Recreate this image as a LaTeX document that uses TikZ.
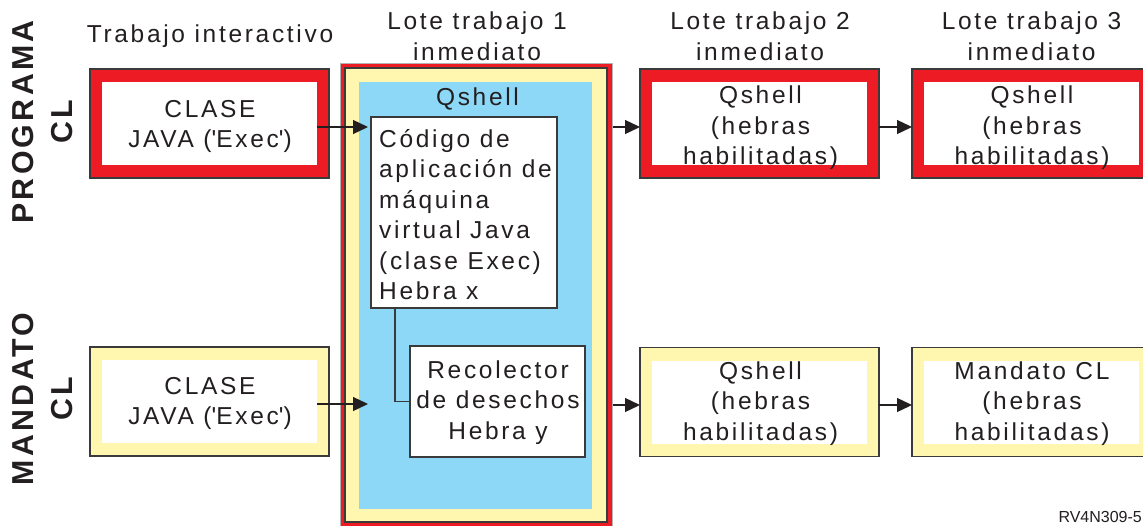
\documentclass[tikz,border=0pt]{standalone}
\usepackage{fontspec}
\setmainfont{Liberation Sans}[LetterSpace=11]
\newfontfamily\idfont{Liberation Sans}
\usetikzlibrary{arrows.meta}
\definecolor{rojo}{HTML}{ED1C24}
\definecolor{amar}{HTML}{FFF7B0}
\definecolor{azul}{HTML}{8CD8F6}
\definecolor{borde}{HTML}{3A3A3A}
\definecolor{tinta}{HTML}{231F20}
\newcommand{\txtfont}{\fontsize{24.5}{30.5}\selectfont}
\newcommand{\lblfont}{\fontsize{30.3}{39.7}\selectfont\bfseries}
\newcommand{\firststrut}{\rule{0pt}{24pt}}
\newcommand{\sq}{\textquotesingle}
\tikzset{
  outerbox/.style={draw=borde, line width=1.2pt, minimum width=239pt, minimum height=109pt, inner sep=0pt, outer sep=0pt},
  redbox/.style={outerbox, fill=rojo},
  yelbox/.style={outerbox, fill=amar},
  whitebox/.style={fill=white, minimum width=215pt, minimum height=83pt, inner sep=0pt, outer sep=0pt},
  plainbox/.style={draw=borde, line width=1.2pt, fill=white, inner sep=0pt, outer sep=0pt},
  txtlabel/.style={font=\txtfont, text=tinta, inner sep=0pt, align=center},
  rowlabel/.style={font=\lblfont, text=tinta, inner sep=0pt, align=center, rotate=90},
  arr/.style={-{Triangle[length=15pt,width=14pt]}, line width=1.3pt, draw=tinta},
  link/.style={line width=1.2pt, draw=borde}
}
\begin{document}
\begin{tikzpicture}[x=1pt,y=-1pt]
\clip (0,0) rectangle (1143,525);
\fill[white] (0,0) rectangle (1143,525);

% row labels
\node[rowlabel] (prog) at (42.5,122) {PROGRAMA\\CL};
\node[rowlabel] (mand) at (42.5,399) {MANDATO\\CL};

% column headers
\node[txtlabel, anchor=base] (h0) at (210,42) {Trabajo interactivo};
\node[txtlabel, anchor=north] (h1) at (477,5.5) {\firststrut Lote trabajo 1\\inmediato};
\node[txtlabel, anchor=north] (h2) at (760,5.5) {\firststrut Lote trabajo 2\\inmediato};
\node[txtlabel, anchor=north] (h3) at (1031.5,5.5) {\firststrut Lote trabajo 3\\inmediato};

% top row boxes
\node[redbox] (b1) at (209.5,123.5) {};
\node[whitebox] (b1w) at (b1.center) {};
\node[txtlabel, anchor=north] (t1) at (210,93) {\firststrut CLASE\\JAVA (\sq Exec\sq)};
\node[redbox] (b2) at (759.5,123.5) {};
\node[whitebox] (b2w) at (b2.center) {};
\node[txtlabel, anchor=north] (t2) at (760.5,79.3) {\firststrut Qshell\\(hebras\\habilitadas)};
\node[redbox] (b3) at (1031.5,123.5) {};
\node[whitebox] (b3w) at (b3.center) {};
\node[txtlabel, anchor=north] (t3) at (1032,79.3) {\firststrut Qshell\\(hebras\\habilitadas)};

% bottom row boxes
\node[yelbox] (c1) at (209.5,401.5) {};
\node[whitebox] (c1w) at (c1.center) {};
\node[txtlabel, anchor=north] (u1) at (210,370) {\firststrut CLASE\\JAVA (\sq Exec\sq)};
\node[yelbox] (c2) at (759.5,402) {};
\node[whitebox] (c2w) at (c2.center) {};
\node[txtlabel, anchor=north] (u2) at (760.5,355) {\firststrut Qshell\\(hebras\\habilitadas)};
\node[yelbox] (c3) at (1031.5,402) {};
\node[whitebox] (c3w) at (c3.center) {};
\node[txtlabel, anchor=north] (u3) at (1032,355) {\firststrut Mandato CL\\(hebras\\habilitadas)};

% middle batch job
\node[draw=gray!60, line width=0.8pt, fill=rojo, minimum width=272pt, minimum height=477pt, inner sep=0pt, outer sep=0pt] (mred) at (476.5,301.5) {};
\node[draw=borde, line width=1.2pt, fill=amar, minimum width=262pt, minimum height=454pt, inner sep=0pt, outer sep=0pt] (myel) at (476,295) {};
\node[fill=azul, minimum width=233pt, minimum height=427pt, inner sep=0pt, outer sep=0pt] (mblue) at (475.5,295.5) {};
\node[txtlabel, anchor=base] (qsh) at (477.5,105) {Qshell};
\node[plainbox, minimum width=186pt, minimum height=191pt] (cod) at (464,212.5) {};
\node[txtlabel, align=left, anchor=north west] (codt) at (379,123) {\firststrut Código de\\aplicación de\\máquina\\virtual Java\\(clase Exec)\\Hebra x};
\node[plainbox, minimum width=175pt, minimum height=111pt] (rec) at (497.5,401.5) {};
\node[txtlabel, anchor=north] (rect) at (498,354) {\firststrut Recolector\\de desechos\\Hebra y};
\draw[link] ([xshift=24pt]cod.south west) |- (rec.west);

% arrows
\draw[arr, shorten >=3pt] ([yshift=-3.5pt]b1w.east) -- ([yshift=-3.5pt]b1w.east -| cod.west);
\coordinate (bin) at (368,404);
\draw[arr] (c1w.east |- bin) -- (bin);
\draw[arr] ([yshift=-3.5pt]b2.west -| mred.east) -- ([yshift=-3.5pt]b2.west);
\draw[arr] ([yshift=-3.5pt]b2.east) -- ([yshift=-3.5pt]b3.west);
\draw[arr] ([yshift=-3pt]c2.west -| mred.east) -- ([yshift=-3pt]c2.west);
\draw[arr] ([yshift=-3pt]c2.east) -- ([yshift=-3pt]c3.west);

% figure id
\node[font=\idfont\fontsize{16}{19}\selectfont, text=tinta, anchor=base east, inner sep=0pt] (figid) at (1142,522) {RV4N309-5};
\end{tikzpicture}
\end{document}
